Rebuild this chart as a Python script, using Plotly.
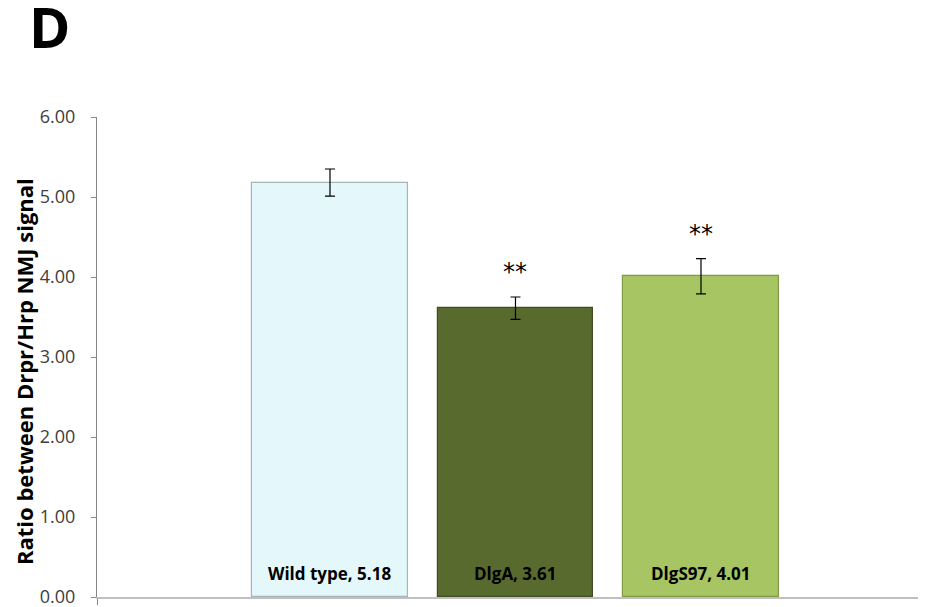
import plotly.graph_objects as go

categories = ["Wild type", "DlgA", "DlgS97"]
values = [5.18, 3.61, 4.01]
errors = [0.17, 0.14, 0.22]
significance = ["", "**", "**"]
y_ticks = [0, 1, 2, 3, 4, 5, 6]

colors = ["#E4F8FC", "#596A2E", "#A7C562"]
edge_colors = ["#A9B4B8", "#3F4B20", "#7F9A45"]

x_pos = list(range(len(categories)))

# page body has an 8px margin; compensate so the chart lands where the reference has it
OFF = 8
W, H = 926 - OFF, 607 - OFF
ML, MR, MT, MB = 97 - OFF, 0, 117 - OFF, H - (597 - OFF)
plot_w = W - ML - MR
plot_h = H - MT - MB


def px_to_paper(xp, yp):
    return ((xp - OFF) - ML) / plot_w, (H - MB - (yp - OFF)) / plot_h


fig = go.Figure()
fig.add_trace(go.Bar(
    x=x_pos,
    y=values,
    width=0.84,
    marker=dict(color=colors, line=dict(color=edge_colors, width=1.2)),
    error_y=dict(type="data", array=errors, visible=True,
                 color="#000000", thickness=1.2, width=5),
    hoverinfo="skip",
    showlegend=False,
))

annotations = []
for i, (c, v) in enumerate(zip(categories, values)):
    annotations.append(dict(
        x=i, y=0, xref="x", yref="y",
        text=f"<b>{c}, {v:.2f}</b>",
        showarrow=False, yanchor="bottom", yshift=10,
        font=dict(family="Open Sans", size=17, color="#000000"),
    ))
for i, (s, v, e) in enumerate(zip(significance, values, errors)):
    if s:
        annotations.append(dict(
            x=i, y=v + e, xref="x", yref="y",
            text=s, showarrow=False, yanchor="bottom", yshift=9,
            font=dict(family="DejaVu Sans", size=24, color="#000000"),
        ))

dx, dy = px_to_paper(49, 26)
annotations.append(dict(
    x=dx, y=dy, xref="paper", yref="paper", text="<b>D</b>",
    xanchor="center", yanchor="middle",
    showarrow=False, font=dict(family="Open Sans", size=56, color="#000000"),
))
tx, ty = px_to_paper(24, 372)
annotations.append(dict(
    xref="paper", yref="paper", x=tx, y=ty,
    xanchor="center", yanchor="middle",
    text="<b>Ratio between Drpr/Hrp NMJ signal</b>", textangle=-90,
    showarrow=False, font=dict(family="Open Sans", size=22, color="#000000"),
))

fig.update_layout(
    width=W, height=H,
    margin=dict(l=ML, r=MR, t=MT, b=MB),
    plot_bgcolor="#FFFFFF", paper_bgcolor="#FFFFFF",
    bargap=0,
    annotations=annotations,
)

x_min = -1.256
x_max = 3.213
fig.update_xaxes(
    range=[x_min, x_max],
    showgrid=False, zeroline=False,
    showline=True, linecolor="#BFBFBF", linewidth=2,
    tickvals=[x_min], ticktext=[""], ticks="outside", ticklen=6,
    tickcolor="#868686", tickwidth=1,
)
fig.update_yaxes(
    range=[0, 6],
    tickvals=y_ticks, ticktext=[f"{t:.2f}" for t in y_ticks],
    showgrid=False, zeroline=False,
    showline=True, linecolor="#868686", linewidth=1,
    ticks="outside", ticklen=5, tickcolor="#868686",
    ticklabelstandoff=12, ticklabeloverflow="allow",
    tickfont=dict(family="Open Sans", size=18, color="#404040"),
)

fig.write_html("out.html")
